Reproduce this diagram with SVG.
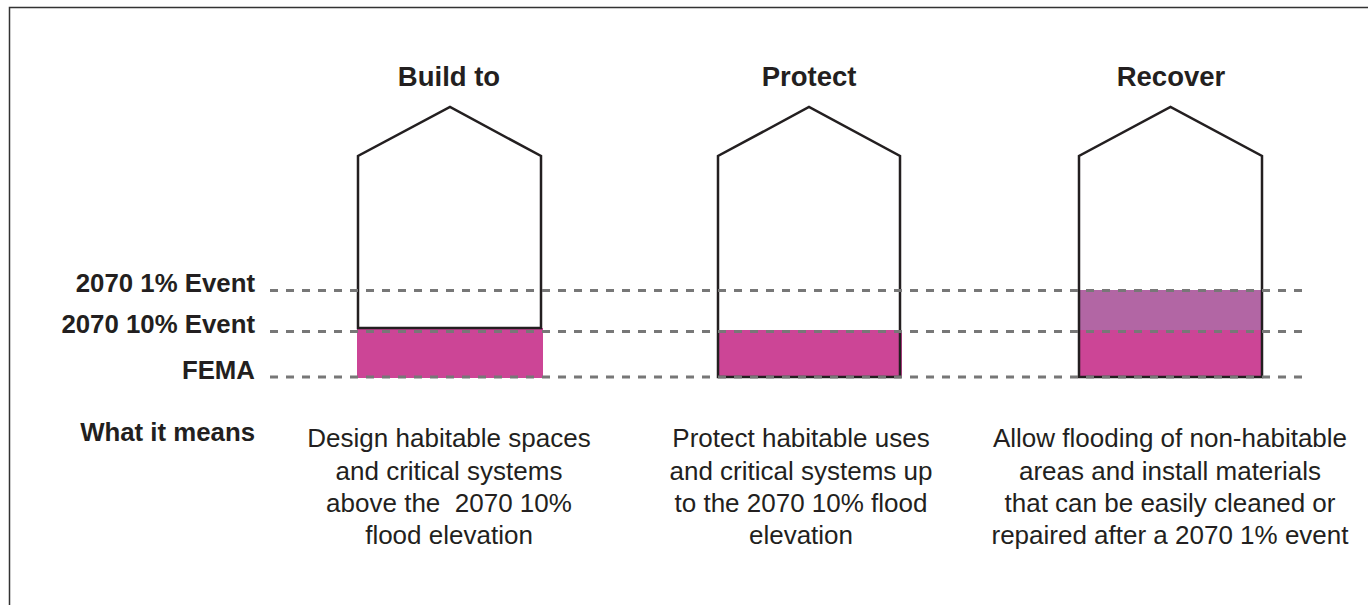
<svg xmlns="http://www.w3.org/2000/svg" width="1368" height="605" viewBox="0 0 1368 605">
<style>
.title{font-family:"Liberation Sans",Arial,sans-serif;font-weight:bold;font-size:27.5px;fill:#231f20;text-anchor:middle}
.lbl{font-family:"Liberation Sans",Arial,sans-serif;font-weight:bold;font-size:25.8px;fill:#231f20;text-anchor:end}
.body{font-family:"Liberation Sans",Arial,sans-serif;font-size:26px;fill:#231f20;text-anchor:middle}
.house{fill:none;stroke:#231f20;stroke-width:2.5;stroke-linejoin:miter}
.dash{stroke:#777;stroke-width:3;stroke-dasharray:8 8;fill:none}
.pink{fill:#cc4596}
.purple{fill:#b266a4}
</style>
<rect x="9.5" y="7.5" width="1400" height="700" fill="#fff" stroke="#333" stroke-width="1.5"/>
<g id="build-to">
<text class="title" x="449" y="86">Build to</text>
<rect class="pink" x="357" y="328" width="186" height="50"/>
<path class="house" d="M358 328 V156 L450 107 L541 156 V328 Z"/>
<text class="body"><tspan x="449" y="447">Design habitable spaces</tspan><tspan x="449" y="479.5">and critical systems</tspan><tspan x="449" y="511.5">above the&#160; 2070 10%</tspan><tspan x="449" y="543.5">flood elevation</tspan></text>
</g>
<g id="protect">
<text class="title" x="809" y="86">Protect</text>
<rect class="pink" x="717" y="330" width="185" height="47"/>
<path class="house" d="M718 377 V156 L809 107 L900 156 V377 Z"/>
<text class="body"><tspan x="801" y="447">Protect habitable uses</tspan><tspan x="801" y="479.5">and critical systems up</tspan><tspan x="801" y="511.5">to the 2070 10% flood</tspan><tspan x="801" y="543.5">elevation</tspan></text>
</g>
<g id="recover">
<text class="title" x="1171" y="86">Recover</text>
<rect class="purple" x="1079" y="290" width="183" height="40"/>
<rect class="pink" x="1079" y="330" width="183" height="47"/>
<path class="house" d="M1079 377 V156 L1170.5 107 L1262 156 V377 Z"/>
<text class="body"><tspan x="1170" y="447">Allow flooding of non-habitable</tspan><tspan x="1170" y="479.5">areas and install materials</tspan><tspan x="1170" y="511.5">that can be easily cleaned or</tspan><tspan x="1170" y="543.5">repaired after a 2070 1% event</tspan></text>
</g>
<g id="levels">
<text class="lbl" x="255" y="292">2070 1% Event</text>
<text class="lbl" x="255" y="332.5">2070 10% Event</text>
<text class="lbl" x="255" y="379">FEMA</text>
<text class="lbl" x="255" y="441">What it means</text>
</g>
<g id="connectors">
<line class="dash" x1="270" y1="290.5" x2="1305" y2="290.5"/>
<line class="dash" x1="270" y1="331.5" x2="1305" y2="331.5"/>
<line class="dash" x1="270" y1="377" x2="1305" y2="377"/>
</g>
</svg>
